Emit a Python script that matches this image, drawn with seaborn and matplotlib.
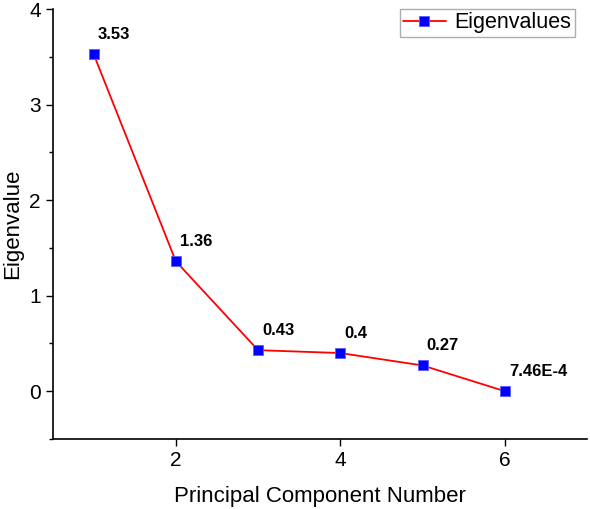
import matplotlib
matplotlib.use("Agg")
import matplotlib.pyplot as plt
import seaborn as sns
import pandas as pd
from matplotlib.ticker import MultipleLocator

components = [1, 2, 3, 4, 5, 6]
eigenvalues = [3.53, 1.36, 0.43, 0.40, 0.27, 7.46e-4]
labels = ["3.53", "1.36", "0.43", "0.4", "0.27", "7.46E-4"]

sns.set_theme(style="ticks")
plt.rcParams["font.family"] = ["Liberation Sans", "DejaVu Sans"]
plt.rcParams["text.color"] = "black"
plt.rcParams["axes.labelcolor"] = "black"
plt.rcParams["xtick.color"] = "black"
plt.rcParams["ytick.color"] = "black"

df = pd.DataFrame({"component": components, "eigenvalue": eigenvalues})

fig = plt.figure(figsize=(5.9, 5.09), dpi=100)
ax = fig.add_axes([0.089, 0.1375, 0.906, 0.8445])

sns.lineplot(
    data=df, x="component", y="eigenvalue", ax=ax,
    color="red", lw=1.3, marker="s", markersize=7.5,
    markerfacecolor="blue", markeredgecolor="#5a5aff", markeredgewidth=0.6,
    label="Eigenvalues",
)

for x, y, t in zip(components, eigenvalues, labels):
    ax.annotate(t, (x, y), xytext=(3, 9), textcoords="offset points",
                fontsize=12, fontweight="bold", ha="left", va="bottom")

ax.set_xlim(0.5, 7)
ax.set_ylim(-0.5, 4)
ax.set_xticks([2, 4, 6])
ax.set_yticks([0, 1, 2, 3, 4])
ax.yaxis.set_minor_locator(MultipleLocator(0.5))
ax.tick_params(axis="both", which="major", labelsize=15, length=5, width=1)
ax.tick_params(axis="y", which="minor", length=3, width=1)
ax.set_xlabel("Principal Component Number", fontsize=16, labelpad=12)
ax.set_ylabel("Eigenvalue", fontsize=16, labelpad=4)
sns.despine(ax=ax)
for s in ["left", "bottom"]:
    ax.spines[s].set_color("black")
    ax.spines[s].set_linewidth(1.2)

leg = ax.legend(loc="upper right", fontsize=15.5, frameon=True, fancybox=False,
                borderpad=0.15, handlelength=2.0, handletextpad=0.4,
                borderaxespad=0.2, bbox_to_anchor=(0.985, 1.01))
leg.get_frame().set_edgecolor("#999999")
leg.get_frame().set_linewidth(1)

fig.savefig("out.png", dpi=100)
